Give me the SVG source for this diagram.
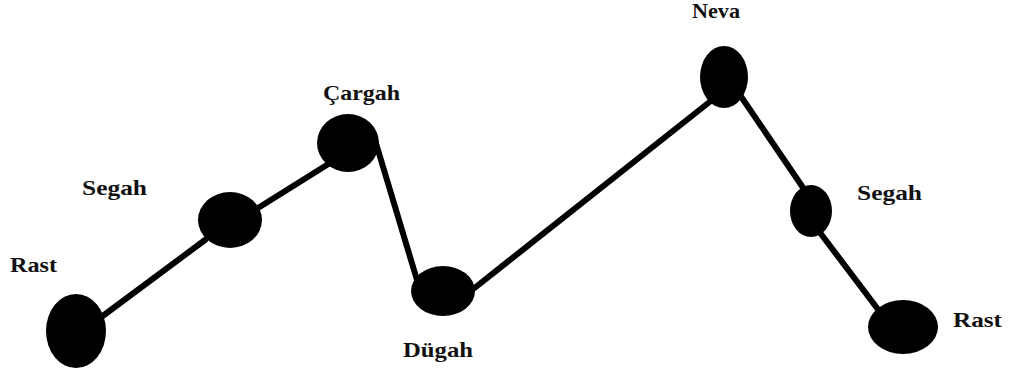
<svg xmlns="http://www.w3.org/2000/svg" width="1012" height="376" viewBox="0 0 1012 376">
<style>
.n{fill:#000}
.l{font-family:"Liberation Serif","Times New Roman",serif;font-weight:bold;font-size:21px;fill:#111}
.c{stroke:#000;stroke-width:6;stroke-linecap:round;fill:none}
</style>
<rect width="1012" height="376" fill="#fff"/>
<g id="connectors">
<line class="c" x1="100" y1="318" x2="205" y2="240"/>
<line class="c" x1="258" y1="208" x2="330" y2="163"/>
<line class="c" x1="375" y1="140" x2="417" y2="280"/>
<line class="c" x1="472" y1="290" x2="712" y2="100"/>
<line class="c" x1="740" y1="95" x2="806" y2="192"/>
<line class="c" x1="818" y1="230" x2="880" y2="312"/>
</g>
<g id="rast1"><ellipse class="n" cx="76" cy="331" rx="30" ry="37"/><text class="l" x="10" y="272" textLength="47" lengthAdjust="spacingAndGlyphs">Rast</text></g>
<g id="segah1"><ellipse class="n" cx="230" cy="220" rx="32" ry="28"/><text class="l" x="82" y="195" textLength="65" lengthAdjust="spacingAndGlyphs">Segah</text></g>
<g id="cargah"><ellipse class="n" cx="348" cy="143" rx="31" ry="29"/><text class="l" x="323" y="100" textLength="77" lengthAdjust="spacingAndGlyphs">Çargah</text></g>
<g id="dugah"><ellipse class="n" cx="443" cy="291" rx="32" ry="25"/><text class="l" x="403" y="357" textLength="70" lengthAdjust="spacingAndGlyphs">Dügah</text></g>
<g id="neva"><ellipse class="n" cx="724" cy="77" rx="24" ry="31"/><text class="l" x="692" y="18" textLength="48" lengthAdjust="spacingAndGlyphs">Neva</text></g>
<g id="segah2"><ellipse class="n" cx="811" cy="211" rx="21" ry="26"/><text class="l" x="857" y="200" textLength="65" lengthAdjust="spacingAndGlyphs">Segah</text></g>
<g id="rast2"><ellipse class="n" cx="903" cy="327" rx="35" ry="27"/><text class="l" x="953" y="327" textLength="49" lengthAdjust="spacingAndGlyphs">Rast</text></g>
</svg>
